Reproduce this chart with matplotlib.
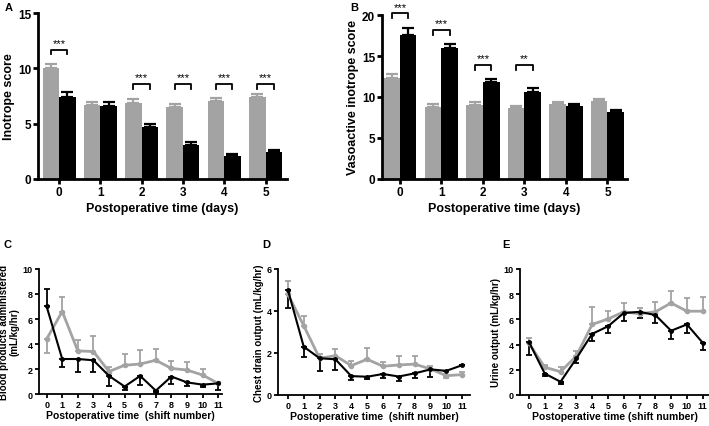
import matplotlib.pyplot as plt
import numpy as np

plt.rcParams['font.family'] = ['Liberation Sans', 'DejaVu Sans']
plt.rcParams['font.weight'] = 'bold'

GRAY = '#a3a3a3'
BLACK = '#000000'

# Panel A: inotrope score
days = [0, 1, 2, 3, 4, 5]
a_gray = [10.0, 6.7, 6.85, 6.5, 7.05, 7.4]
a_gray_err = [0.35, 0.3, 0.35, 0.3, 0.3, 0.3]
a_black = [7.4, 6.6, 4.7, 3.1, 2.1, 2.4]
a_black_err = [0.42, 0.35, 0.28, 0.25, 0.2, 0.25]
a_sig = [(0, '***', 11.7), (2, '***', 8.6), (3, '***', 8.6), (4, '***', 8.6), (5, '***', 8.6)]

# Panel B: vasoactive inotrope score
b_gray = [12.3, 8.8, 9.0, 8.6, 9.15, 9.5]
b_gray_err = [0.5, 0.35, 0.35, 0.35, 0.3, 0.25]
b_black = [17.6, 16.0, 11.8, 10.65, 8.9, 8.15]
b_black_err = [0.8, 0.5, 0.38, 0.42, 0.3, 0.3]
b_sig = [(0, '***', 20.2), (1, '***', 18.2), (2, '***', 13.9), (3, '**', 13.9)]

# Panels C-E: shift data
shifts = list(range(12))
c_gray = [4.4, 6.6, 3.45, 3.4, 1.8, 2.3, 2.4, 2.7, 2.05, 1.92, 1.52, 0.85]
c_gray_lo = [1.1, 0, 0, 0, 0, 0, 0, 0, 0, 0, 0, 0]
c_gray_hi = [0, 1.15, 0.85, 1.25, 0.4, 0.9, 1.1, 0.9, 0.6, 0.62, 0.5, 0.15]
c_black = [7.0, 2.8, 2.8, 2.7, 1.45, 0.6, 1.45, 0.27, 1.4, 0.93, 0.75, 0.85]
c_black_lo = [0, 0.6, 1.0, 0.95, 0.8, 0.3, 0.75, 0.1, 0.6, 0.25, 0.22, 0.5]
c_black_hi = [1.4, 0, 0, 0, 0, 0, 0, 0, 0, 0, 0, 0]

d_gray = [4.8, 3.3, 1.75, 1.87, 1.4, 1.7, 1.37, 1.43, 1.47, 1.24, 0.92, 0.97]
d_gray_lo = [0, 0, 0, 0, 0, 0, 0, 0, 0, 0, 0.1, 0]
d_gray_hi = [0.65, 0.45, 0.2, 0.32, 0.23, 0.55, 0.2, 0.42, 0.4, 0.15, 0, 0.12]
d_black = [5.0, 2.3, 1.75, 1.7, 0.9, 0.87, 1.0, 0.88, 1.03, 1.22, 1.15, 1.42]
d_black_lo = [0.85, 0.5, 0.6, 0.52, 0.18, 0.13, 0.2, 0.2, 0.22, 0.35, 0, 0]
d_black_hi = [0, 0, 0, 0, 0, 0, 0, 0, 0, 0, 0, 0]

e_gray = [4.1, 2.2, 1.85, 3.1, 5.6, 6.03, 6.6, 6.45, 6.6, 7.3, 6.65, 6.65]
e_gray_lo = [0] * 12
e_gray_hi = [0.45, 0.22, 0.35, 0.4, 1.35, 0.66, 0.72, 0.45, 0.8, 0.98, 1.02, 1.15]
e_black = [4.2, 1.7, 1.05, 2.9, 4.85, 5.45, 6.5, 6.6, 6.35, 5.1, 5.6, 4.15]
e_black_lo = [1.05, 0.18, 0.18, 0.38, 0.55, 0.55, 0.6, 0.45, 0.62, 0.65, 0.7, 0.58]
e_black_hi = [0] * 12

fig = plt.figure(figsize=(7.09, 4.27), dpi=100)


def style_axes(ax, lw, length):
    ax.spines['top'].set_visible(False)
    ax.spines['right'].set_visible(False)
    ax.spines['left'].set_linewidth(lw)
    ax.spines['bottom'].set_linewidth(lw)
    ax.tick_params(direction='out', width=lw, length=length, pad=1.5)


def bar_panel(rect, gray, gray_err, black, black_err, sig, ylim, yticks, ylabel, xlim):
    ax = fig.add_axes(rect)
    x = np.array(days)
    w = 0.4
    ax.bar(x - w / 2, gray, w, color=GRAY, yerr=[np.zeros(6), gray_err],
           error_kw=dict(ecolor=GRAY, elinewidth=1.6, capsize=4, capthick=1.6))
    ax.bar(x + w / 2, black, w, color=BLACK, yerr=[np.zeros(6), black_err],
           error_kw=dict(ecolor=BLACK, elinewidth=1.6, capsize=4, capthick=1.6))
    for i, stars, yb in sig:
        d = ylim[1] * 0.03
        ax.plot([i - 0.2, i - 0.2, i + 0.2, i + 0.2], [yb - d, yb, yb, yb - d],
                color='black', lw=1.3, clip_on=False)
        ax.text(i, yb + d * 0.3, stars, ha='center', va='bottom', fontsize=8,
                fontweight='normal')
    ax.set_xlim(*xlim)
    ax.set_ylim(*ylim)
    ax.set_yticks(yticks)
    ax.set_xticks(days)
    style_axes(ax, 2, 3.5)
    ax.tick_params(labelsize=8.5)
    ax.set_ylabel(ylabel, fontsize=9, fontweight='bold', labelpad=2)
    ax.set_xlabel('Postoperative time (days)', fontsize=9, fontweight='bold', labelpad=3)
    return ax


bar_panel([0.0536, 0.5785, 0.3512, 0.3887], a_gray, a_gray_err, a_black, a_black_err,
          a_sig, (0, 15), [0, 5, 10, 15], 'Inotrope score', (-0.51, 5.52))
bar_panel([0.5388, 0.5785, 0.3455, 0.384], b_gray, b_gray_err, b_black, b_black_err,
          b_sig, (0, 20), [0, 5, 10, 15, 20], 'Vasoactive inotrope score', (-0.43, 5.47))


def line_panel(rect, gray, glo, ghi, black, blo, bhi, ylim, yticks, ylabel, xlabel, xlim):
    ax = fig.add_axes(rect)
    ax.errorbar(shifts, gray, yerr=[glo, ghi], color=GRAY, lw=2, marker='o', ms=3,
                elinewidth=1.3, capsize=2.5, capthick=1.3)
    ax.errorbar(shifts, black, yerr=[blo, bhi], color=BLACK, lw=1.5, marker='o', ms=2.5,
                elinewidth=1.3, capsize=2.5, capthick=1.3)
    ax.set_xlim(*xlim)
    ax.set_ylim(*ylim)
    ax.set_yticks(yticks)
    ax.set_xticks(shifts)
    style_axes(ax, 1.3, 3)
    ax.tick_params(labelsize=6.5)
    ax.set_ylabel(ylabel, fontsize=7, fontweight='bold', labelpad=2, linespacing=1.1)
    ax.set_xlabel(xlabel, fontsize=7.5, fontweight='bold', labelpad=0.5)
    return ax


line_panel([0.055, 0.0749, 0.258, 0.2928], c_gray, c_gray_lo, c_gray_hi,
           c_black, c_black_lo, c_black_hi, (0, 10), [0, 2, 4, 6, 8, 10],
           'Blood products administered\n(mL/kg/hr)', 'Postoperative time  (shift number)',
           (-0.49, 11.24))
line_panel([0.392, 0.0726, 0.271, 0.2951], d_gray, d_gray_lo, d_gray_hi,
           d_black, d_black_lo, d_black_hi, (0, 6), [0, 2, 4, 6],
           'Chest drain output (mL/kg/hr)', 'Postoperative time  (shift number)',
           (-0.63, 11.5))
line_panel([0.7334, 0.0726, 0.2666, 0.2951], e_gray, e_gray_lo, e_gray_hi,
           e_black, e_black_lo, e_black_hi, (0, 10), [0, 2, 4, 6, 8, 10],
           'Urine output (mL/kg/hr)', 'Postoperative time (shift number)',
           (-0.57, 11.4))

for lbl, x, y in [('A', 5, 8), ('B', 350, 8), ('C', 4, 245), ('D', 262, 245), ('E', 502, 245)]:
    fig.text(x / 709, 1 - y / 427, lbl, fontsize=8, fontweight='bold', va='center')

fig.savefig('out.png', dpi=100)
